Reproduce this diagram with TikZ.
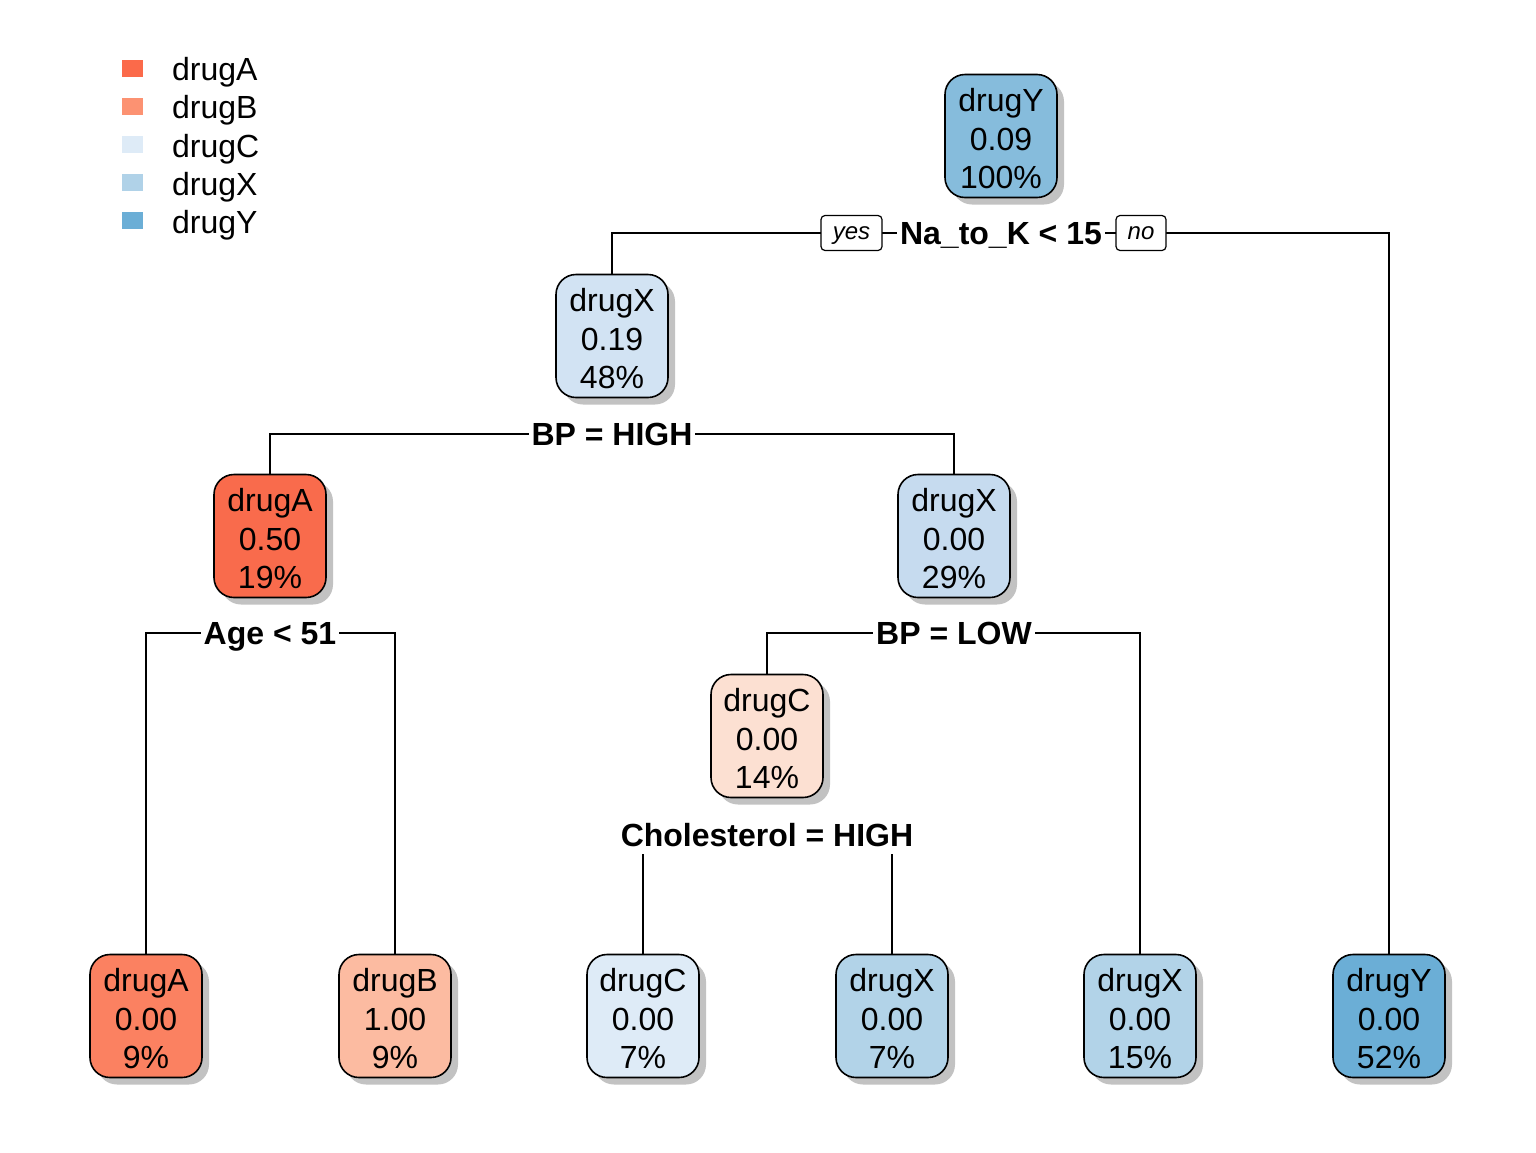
\documentclass[tikz,border=0pt]{standalone}
\usepackage{fontspec}
\setmainfont{Liberation Sans}
\usetikzlibrary{shadows,backgrounds}
\definecolor{legA}{HTML}{FB6A4A}
\definecolor{legB}{HTML}{FC9272}
\definecolor{legC}{HTML}{DEEBF7}
\definecolor{legX}{HTML}{B0D2E8}
\definecolor{legY}{HTML}{6BAED6}
\definecolor{fRoot}{HTML}{86BCDC}
\definecolor{fXa}{HTML}{D2E3F3}
\definecolor{fAa}{HTML}{F96B4C}
\definecolor{fXb}{HTML}{C6DBEF}
\definecolor{fCa}{HTML}{FCE0D2}
\definecolor{fAl}{HTML}{FB8161}
\definecolor{fBl}{HTML}{FCBBA1}
\definecolor{fCl}{HTML}{DEEBF7}
\definecolor{fXl}{HTML}{B2D3E8}
\definecolor{fYl}{HTML}{6BAED6}
\definecolor{shad}{HTML}{C2C2C2}
\newcommand\ndtxt[3]{\rule{0pt}{29pt}#1\\#2\\#3}
\begin{document}
\begin{tikzpicture}[x=1pt,y=-1pt,
  box/.style={draw=black, line width=1.6pt, rounded corners=20pt,
    minimum width=112pt, minimum height=123pt, align=center, inner sep=0pt,
    font=\fontsize{32}{38.5}\selectfont,
    drop shadow={shadow xshift=7pt, shadow yshift=-7pt, fill=shad, opacity=1, draw=none}},
  split/.style={fill=white, inner xsep=3pt, inner ysep=1pt, text height=29pt, text depth=6pt,
    font=\bfseries\fontsize{32}{36}\selectfont},
  yn/.style={draw, fill=white, line width=1.2pt, rounded corners=4pt,
    minimum width=61pt, minimum height=35pt, inner sep=0pt, text height=17pt, text depth=5pt,
    font=\itshape\fontsize{24}{28}\selectfont},
  conn/.style={line width=1.4pt},
  legsq/.style={minimum width=21pt, minimum height=17pt, inner sep=0pt},
  legtx/.style={anchor=west, inner sep=0pt, font=\fontsize{32}{36}\selectfont}]
\useasboundingbox (0,0) rectangle (1536,1152);

% legend
\node[legsq, fill=legA] (qA) at (132.5,68) {};
\node[legsq, fill=legB] (qB) at (132.5,106) {};
\node[legsq, fill=legC] (qC) at (132.5,144) {};
\node[legsq, fill=legX] (qX) at (132.5,182) {};
\node[legsq, fill=legY] (qY) at (132.5,220) {};
\node[legtx] (tA) at (172,72) {drugA};
\node[legtx] (tB) at (172,110) {drugB};
\node[legtx] (tC) at (172,149) {drugC};
\node[legtx] (tX) at (172,187) {drugX};
\node[legtx] (tY) at (172,225) {drugY};

% tree nodes
\node[box, fill=fRoot] (root) at (1001,136) {\ndtxt{drugY}{0.09}{100\%}};
\node[box, fill=fXa] (nXa) at (612,336) {\ndtxt{drugX}{0.19}{48\%}};
\node[box, fill=fAa] (nAa) at (270,536) {\ndtxt{drugA}{0.50}{19\%}};
\node[box, fill=fXb] (nXb) at (954,536) {\ndtxt{drugX}{0.00}{29\%}};
\node[box, fill=fCa] (nCa) at (767,736) {\ndtxt{drugC}{0.00}{14\%}};
\node[box, fill=fAl] (lA) at (146,1016) {\ndtxt{drugA}{0.00}{9\%}};
\node[box, fill=fBl] (lB) at (395,1016) {\ndtxt{drugB}{1.00}{9\%}};
\node[box, fill=fCl] (lC) at (643,1016) {\ndtxt{drugC}{0.00}{7\%}};
\node[box, fill=fXl] (lX1) at (892,1016) {\ndtxt{drugX}{0.00}{7\%}};
\node[box, fill=fXl] (lX2) at (1140,1016) {\ndtxt{drugX}{0.00}{15\%}};
\node[box, fill=fYl] (lY) at (1389,1016) {\ndtxt{drugY}{0.00}{52\%}};

% split labels
\node[split] (s1) at (1001,233) {Na\_to\_K < 15};
\node[split] (s2) at (612,434) {BP = HIGH};
\node[split] (s3) at (270,633) {Age < 51};
\node[split] (s4) at (954,633) {BP = LOW};
\node[split] (s5) at (767,835) {Cholesterol = HIGH};
\node[yn] (yes) at (851.5,233) {yes};
\node[yn, minimum width=50pt] (no) at (1141,233) {no};

% connectors
\begin{scope}[on background layer]
\fill[white] (0,0) rectangle (1536,1152);
\draw[conn] (nXa.north) |- (yes.center) -- (no.center) -| (lY.north);
\draw[conn] (nAa.north) |- (s2.center) -| (nXb.north);
\draw[conn] (lA.north) |- (s3.center) -| (lB.north);
\draw[conn] (nCa.north) |- (s4.center) -| (lX2.north);
\draw[conn] (lC.north) -- (lC.north |- s5.center);
\draw[conn] (lX1.north) -- (lX1.north |- s5.center);
\end{scope}
\end{tikzpicture}
\end{document}
